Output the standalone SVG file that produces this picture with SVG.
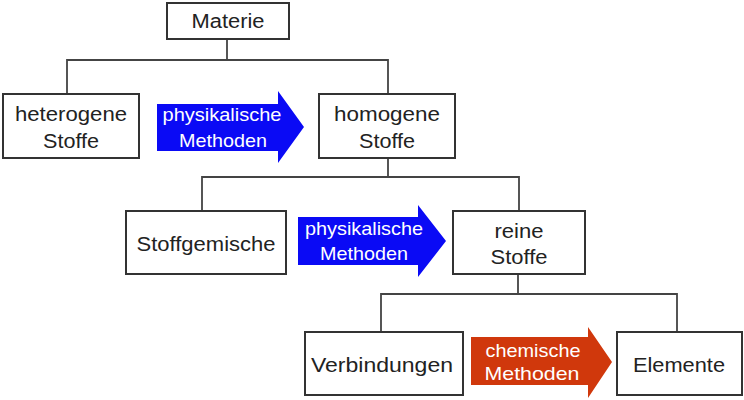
<svg xmlns="http://www.w3.org/2000/svg" width="744" height="400" viewBox="0 0 744 400">
<style>
.box{fill:#fff;stroke:#333;stroke-width:2}
.conn{fill:none;stroke:#444;stroke-width:1.8}
.t{font-family:"Liberation Sans",Arial,sans-serif;font-size:20px;fill:#222;text-anchor:middle}
.w{font-family:"Liberation Sans",Arial,sans-serif;font-size:19px;fill:#fff;text-anchor:middle}
.blue{fill:#0a0af5}
.red{fill:#d0380c}
</style>
<rect width="744" height="400" fill="#fff"/>
<g id="connectors">
<path class="conn" d="M227 39V60M67 94V60H388V94"/>
<path class="conn" d="M388 158V177M202 211V177H519V211"/>
<path class="conn" d="M518 274V294M381 332V294H677V332"/>
</g>
<g id="materie">
<rect class="box" x="167" y="3" width="122" height="36"/>
<text class="t" x="228" y="28" textLength="73" lengthAdjust="spacingAndGlyphs">Materie</text>
</g>
<g id="heterogene">
<rect class="box" x="3" y="94" width="136" height="64"/>
<text class="t" x="71" y="121" textLength="112" lengthAdjust="spacingAndGlyphs">heterogene</text>
<text class="t" x="71" y="148" textLength="56" lengthAdjust="spacingAndGlyphs">Stoffe</text>
</g>
<g id="arrow1">
<polygon class="blue" points="157,104 278,104 278,91 304,127 278,163 278,151 157,151"/>
<text class="w" x="222" y="121" textLength="119" lengthAdjust="spacingAndGlyphs">physikalische</text>
<text class="w" x="223" y="147" textLength="88" lengthAdjust="spacingAndGlyphs">Methoden</text>
</g>
<g id="homogene">
<rect class="box" x="319" y="94" width="136" height="64"/>
<text class="t" x="387" y="121" textLength="106" lengthAdjust="spacingAndGlyphs">homogene</text>
<text class="t" x="387" y="148" textLength="56" lengthAdjust="spacingAndGlyphs">Stoffe</text>
</g>
<g id="stoffgemische">
<rect class="box" x="126" y="211" width="160" height="63"/>
<text class="t" x="206" y="251" textLength="139" lengthAdjust="spacingAndGlyphs">Stoffgemische</text>
</g>
<g id="arrow2">
<polygon class="blue" points="298,217 418,217 418,205 446,241 418,277 418,265 298,265"/>
<text class="w" x="364" y="235" textLength="118" lengthAdjust="spacingAndGlyphs">physikalische</text>
<text class="w" x="364" y="260" textLength="88" lengthAdjust="spacingAndGlyphs">Methoden</text>
</g>
<g id="reine">
<rect class="box" x="453" y="211" width="132" height="63"/>
<text class="t" x="519" y="238" textLength="49" lengthAdjust="spacingAndGlyphs">reine</text>
<text class="t" x="519" y="264" textLength="57" lengthAdjust="spacingAndGlyphs">Stoffe</text>
</g>
<g id="verbindungen">
<rect class="box" x="305" y="332" width="158" height="63"/>
<text class="t" x="382" y="372" textLength="142" lengthAdjust="spacingAndGlyphs">Verbindungen</text>
</g>
<g id="arrow3">
<polygon class="red" points="471,337 588,337 588,327 612,362 588,398 588,385 471,385"/>
<text class="w" x="533" y="357" textLength="95" lengthAdjust="spacingAndGlyphs">chemische</text>
<text class="w" x="532" y="380" textLength="95" lengthAdjust="spacingAndGlyphs">Methoden</text>
</g>
<g id="elemente">
<rect class="box" x="617" y="332" width="125" height="63"/>
<text class="t" x="679" y="372" textLength="92" lengthAdjust="spacingAndGlyphs">Elemente</text>
</g>
</svg>
